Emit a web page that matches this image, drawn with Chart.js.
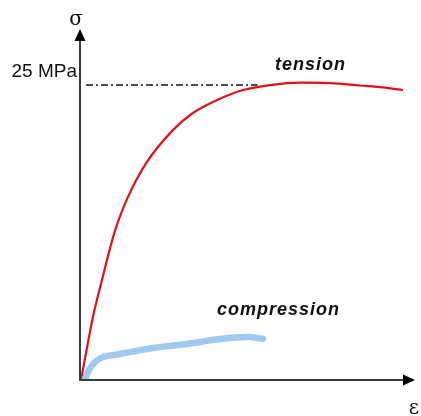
<!DOCTYPE html>
<html>
<head>
<meta charset="utf-8">
<script src="https://cdn.jsdelivr.net/npm/chart.js@4/dist/chart.umd.min.js"></script>
<style>
  html, body { margin: 0; padding: 0; background: #fff; }
  #wrap { width: 421px; height: 416px; }
</style>
</head>
<body>
<div id="wrap"><canvas id="c" width="421" height="416"></canvas></div>
<script>
// strain (arbitrary units) and stress (MPa)
var tensionStrain = [0.03, 0.21, 0.39, 0.64, 1.05, 1.43, 1.98, 2.78, 3.37, 4.09, 4.87, 5.67, 6.57, 7.46, 8.36, 9.04, 9.64];
var tensionStress = [0, 2.75, 5.4, 8.3, 12.7, 15.5, 18.4, 21.2, 22.63, 23.73, 24.58, 25.0, 25.21, 25.17, 24.96, 24.8, 24.58];
var compStrain = [0.15, 0.27, 0.45, 0.69, 1.19, 2.18, 3.19, 4.18, 4.99, 5.46];
var compStress = [0.08, 0.85, 1.53, 1.95, 2.2, 2.71, 3.05, 3.47, 3.64, 3.5];
var refStress = 25;          // 25 MPa guide line
var refStrain = [0.18, 5.3];
var yLabel = 'σ', xLabel = 'ε', refLabel = '25 MPa';
var tensionLabel = 'tension', compLabel = 'compression';

function pts(xs, ys) {
  return xs.map(function(x, i) { return { x: x, y: ys[i] }; });
}

var axesPlugin = {
  id: 'axes',
  afterDatasetsDraw: function(chart) {
    var ctx = chart.ctx, xs = chart.scales.x, ys = chart.scales.y;
    var ox = xs.getPixelForValue(0), oy = ys.getPixelForValue(0);
    var top = chart.chartArea.top, right = chart.chartArea.right;
    ctx.save();
    ctx.strokeStyle = '#3a3a3a';
    ctx.lineWidth = 2;
    ctx.beginPath();
    ctx.moveTo(ox, oy + 1); ctx.lineTo(ox, top + 6);
    ctx.moveTo(ox - 1, oy); ctx.lineTo(right - 6, oy);
    ctx.stroke();
    ctx.fillStyle = '#000';
    ctx.beginPath();
    ctx.moveTo(ox, top); ctx.lineTo(ox - 5.5, top + 12); ctx.lineTo(ox + 5.5, top + 12); ctx.closePath();
    ctx.fill();
    ctx.beginPath();
    ctx.moveTo(right, oy); ctx.lineTo(right - 12, oy - 5.5); ctx.lineTo(right - 12, oy + 5.5); ctx.closePath();
    ctx.fill();

    ctx.fillStyle = '#111';
    ctx.textAlign = 'center';
    ctx.textBaseline = 'middle';
    ctx.font = '20px "DejaVu Serif"';
    ctx.fillText(yLabel, ox - 4, top - 9);
    ctx.fillText(xLabel, right - 1, oy + 29);

    ctx.textAlign = 'right';
    ctx.textBaseline = 'alphabetic';
    ctx.font = '19px "Liberation Sans"';
    ctx.fillText(refLabel, ox - 3, ys.getPixelForValue(refStress) - 8);

    ctx.textAlign = 'left';
    ctx.font = 'italic bold 18px "Liberation Sans"';
    ctx.letterSpacing = '1px';
    ctx.fillText(tensionLabel, xs.getPixelForValue(5.82), ys.getPixelForValue(26.3));
    ctx.fillText(compLabel, xs.getPixelForValue(4.09), ys.getPixelForValue(5.5));
    ctx.restore();
  }
};

new Chart(document.getElementById('c'), {
  type: 'scatter',
  data: {
    datasets: [
      { data: pts(refStrain, [refStress, refStress]), showLine: true, borderColor: '#111', borderWidth: 1.6, borderDash: [7, 3, 2, 3], pointRadius: 0 },
      { data: pts(compStrain, compStress), showLine: true, borderColor: '#9fc9ee', borderWidth: 6.5, borderCapStyle: 'round', tension: 0.4, pointRadius: 0 },
      { data: pts(tensionStrain, tensionStress), showLine: true, borderColor: '#e3101a', borderWidth: 2.2, cubicInterpolationMode: 'monotone', pointRadius: 0 }
    ]
  },
  options: {
    responsive: false,
    animation: false,
    events: [],
    layout: { padding: { left: 80, top: 29, right: 6, bottom: 36 } },
    plugins: { legend: { display: false }, tooltip: { enabled: false } },
    scales: {
      x: { type: 'linear', min: 0, max: 10, display: false },
      y: { type: 'linear', min: 0, max: 29.75, display: false }
    }
  },
  plugins: [axesPlugin]
});
</script>
</body>
</html>
